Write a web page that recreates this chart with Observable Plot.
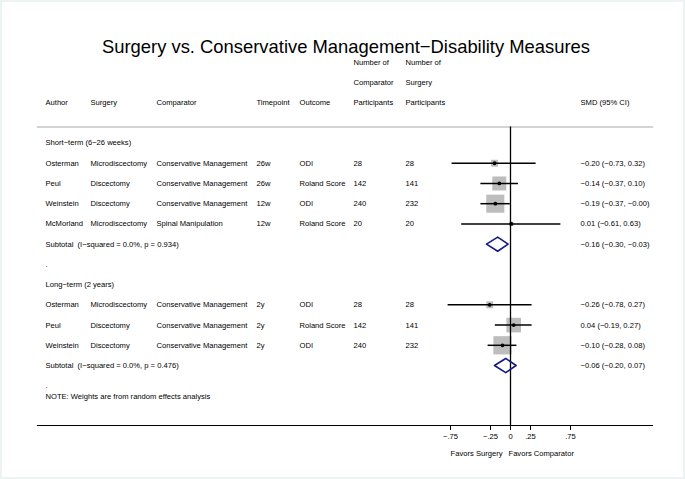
<!DOCTYPE html>
<html><head><meta charset="utf-8">
<script src="https://cdn.jsdelivr.net/npm/d3@7"></script>
<script src="https://cdn.jsdelivr.net/npm/@observablehq/plot@0.6"></script>
<style>
body{margin:0;background:#fff;font-family:"Liberation Sans",Arial,sans-serif;}
#wrap{width:685px;height:479px;position:relative;overflow:hidden;box-shadow:inset 0 0 0 2px #edf2f3;}
#title{position:absolute;left:0;top:0;width:685px;box-sizing:border-box;padding-top:37px;padding-left:7px;text-align:center;font-size:18.4px;line-height:20px;color:#000;white-space:nowrap;}
#chart{position:absolute;left:0;top:40px;}
</style></head><body>
<div id="wrap"><div id="title">Surgery vs. Conservative Management−Disability Measures</div><div id="chart"></div></div>
<script>
const groups = ["Short−term (6−26 weeks)", "Long−term (2 years)"];
const authors = ["Osterman","Peul","Weinstein","McMorland","Osterman","Peul","Weinstein"];
const surgeries = ["Microdiscectomy","Discectomy","Discectomy","Microdiscectomy","Microdiscectomy","Discectomy","Discectomy"];
const comparators = ["Conservative Management","Conservative Management","Conservative Management","Spinal Manipulation","Conservative Management","Conservative Management","Conservative Management"];
const timepoints = ["26w","26w","12w","12w","2y","2y","2y"];
const outcomes = ["ODI","Roland Score","ODI","Roland Score","ODI","Roland Score","ODI"];
const nComparator = [28,142,240,20,28,142,240];
const nSurgery = [28,141,232,20,28,141,232];
const smd = [-0.20,-0.14,-0.19,0.01,-0.26,0.04,-0.10];
const ciLow = [-0.73,-0.37,-0.37,-0.61,-0.78,-0.19,-0.28];
const ciHigh = [0.32,0.10,-0.003,0.63,0.27,0.27,0.08];
const weights = [8,33,55,3,8,36,56];
const studyGroup = [0,0,0,0,1,1,1];
const subtotalLabels = ["Subtotal\u00a0\u00a0(I−squared = 0.0%, p = 0.934)","Subtotal\u00a0\u00a0(I−squared = 0.0%, p = 0.476)"];
const subSmd = [-0.16,-0.06];
const subLow = [-0.30,-0.20];
const subHigh = [-0.03,0.07];
const axisTicks = [-0.75,-0.25,0,0.25,0.75];
const tickLabels = ["−.75","−.25","0",".25",".75"];
const headerLines = [
  {row:-4, col:"nc", text:"Number of"},{row:-4, col:"ns", text:"Number of"},
  {row:-3, col:"nc", text:"Comparator"},{row:-3, col:"ns", text:"Surgery"},
  {row:-2, col:"author", text:"Author"},{row:-2, col:"surgery", text:"Surgery"},
  {row:-2, col:"comparator", text:"Comparator"},{row:-2, col:"timepoint", text:"Timepoint"},
  {row:-2, col:"outcome", text:"Outcome"},{row:-2, col:"nc", text:"Participants"},
  {row:-2, col:"ns", text:"Participants"},{row:-2, col:"smd", text:"SMD (95% CI)"}
];
const note = "NOTE: Weights are from random effects analysis";
const favorLeft = "Favors Surgery", favorRight = "Favors Comparator";

// layout (column offsets from frame left)
const colDx = {author:8, surgery:53, comparator:119, timepoint:219, outcome:262, nc:316, ns:368, smd:543};
const fs = 7.6;
const fmt = v => (v < 0 ? "−" : "") + Math.abs(v).toFixed(2);

const cells = [...headerLines];
const studies = [], subs = [];
let r = 0;
groups.forEach((g, gi) => {
  cells.push({row:r++, col:"author", text:g});
  smd.forEach((_, i) => {
    if (studyGroup[i] !== gi) return;
    const row = r++;
    studies.push({row, est:smd[i], lo:ciLow[i], hi:ciHigh[i], w:weights[i]});
    cells.push({row, col:"author", text:authors[i]});
    cells.push({row, col:"surgery", text:surgeries[i]});
    cells.push({row, col:"comparator", text:comparators[i]});
    cells.push({row, col:"timepoint", text:timepoints[i]});
    cells.push({row, col:"outcome", text:outcomes[i]});
    cells.push({row, col:"nc", text:String(nComparator[i])});
    cells.push({row, col:"ns", text:String(nSurgery[i])});
    cells.push({row, col:"smd", text:`${fmt(smd[i])} (${fmt(ciLow[i])}, ${fmt(ciHigh[i])})`});
  });
  const row = r++;
  subs.push({row, gi, est:subSmd[gi], lo:subLow[gi], hi:subHigh[gi]});
  cells.push({row, col:"author", text:subtotalLabels[gi]});
  cells.push({row, col:"smd", text:`${fmt(subSmd[gi])} (${fmt(subLow[gi])}, ${fmt(subHigh[gi])})`});
  cells.push({row:r++, col:"author", text:"."});
});
const lastRow = r - 1;

const diamond = subs.flatMap(s => [
  {gi:s.gi, x:s.lo, y:s.row},{gi:s.gi, x:s.est, y:s.row-0.35},
  {gi:s.gi, x:s.hi, y:s.row},{gi:s.gi, x:s.est, y:s.row+0.35},{gi:s.gi, x:s.lo, y:s.row}
]);

const textMarks = Object.entries(colDx).map(([col, dx]) =>
  Plot.text(cells.filter(c => c.col === col), {y:"row", text:"text", frameAnchor:"left", dx, textAnchor:"start", fontSize:fs, fill:"#000"})
);

const chart = Plot.plot({
  width:685, height:439,
  marginLeft:37, marginRight:33, marginTop:86.5, marginBottom:54,
  style:{fontFamily:"'Liberation Sans', Arial, sans-serif", background:"transparent", color:"#000"},
  x:{domain:[-5.9125, 1.775], ticks:axisTicks},
  y:{domain:[0, 12], range:[102.5, 102.5 + 12*20.23], axis:null},
  r:{type:"sqrt", domain:[0,100], range:[0,13.74]},
  marks:[
    Plot.frame({anchor:"top", stroke:"#c4c4c4", strokeWidth:1.4}),
    Plot.frame({anchor:"bottom", stroke:"#000", strokeWidth:1.2}),
    Plot.dot(studies, {x:"est", y:"row", r:"w", symbol:"square", fill:"#bdbdbd", stroke:null}),
    Plot.ruleX([0], {stroke:"#000", strokeWidth:1.3}),
    Plot.ruleY(studies, {y:"row", x1:"lo", x2:"hi", stroke:"#000", strokeWidth:1.5}),
    Plot.dot(studies, {x:"est", y:"row", r:1.9, fill:"#000"}),
    Plot.line(diamond, {x:"x", y:"y", z:"gi", stroke:"#141a82", strokeWidth:1.6, fill:"none"}),
    ...textMarks,
    Plot.text([note], {y:[lastRow], frameAnchor:"left", dx:8, dy:11, textAnchor:"start", fontSize:fs, fill:"#000"}),
    Plot.axisX({ticks:axisTicks, tickFormat:(d)=>tickLabels[axisTicks.indexOf(d)], tickSize:5, tickPadding:3, fontSize:fs, stroke:"#000", label:null}),
    Plot.text([favorLeft], {x:[0], frameAnchor:"bottom", dy:30, dx:-8, textAnchor:"end", fontSize:fs, fill:"#000"}),
    Plot.text([favorRight], {x:[0], frameAnchor:"bottom", dy:30, dx:-2, textAnchor:"start", fontSize:fs, fill:"#000"})
  ]
});
document.getElementById("chart").appendChild(chart);
</script>
</body></html>
